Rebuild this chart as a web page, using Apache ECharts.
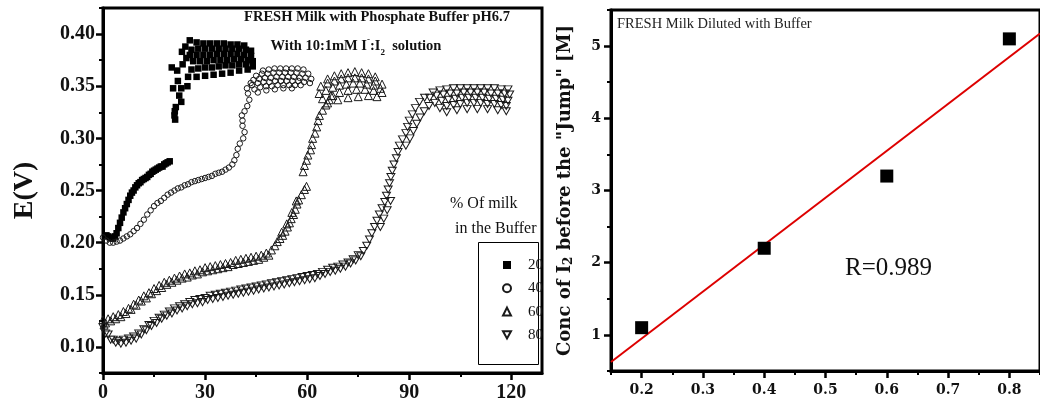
<!DOCTYPE html>
<html><head><meta charset="utf-8">
<script src="https://cdn.jsdelivr.net/npm/echarts@6/dist/echarts.min.js"></script>
<style>html,body{margin:0;padding:0;background:#fff}#c{width:1040px;height:407px}</style>
</head><body><div id="c"></div>
<script>
// ---------- Left panel: E(V) vs time, 4 milk percentages ----------
const legendNames = ['20', '40', '60', '80'];
const milk20 = [
 [1,0.207],[1.5,0.206],[2,0.205],[2.5,0.204],[3,0.204],[3.5,0.206],[4,0.209],[4.5,0.214],[5,0.219],[5.5,0.224],
 [6,0.229],[6.5,0.233],[7,0.237],[7.5,0.241],[8,0.245],[8.5,0.248],[9,0.250],[9.5,0.253],[10,0.255],[10.5,0.257],
 [11,0.258],[11.5,0.260],[12,0.261],[12.5,0.262],[13,0.263],[13.5,0.265],[14,0.266],[14.5,0.268],[15,0.269],[15.5,0.270],
 [16,0.271],[16.5,0.272],[17,0.273],[17.5,0.273],[18,0.275],[18.5,0.276],[19,0.277],[19.6,0.278],
 [21.2,0.318],[21.0,0.322],[21.1,0.326],[21.4,0.330],[23.0,0.335],[22.4,0.341],[20.6,0.348],[23.0,0.348],[24.8,0.350],
 [22.0,0.355],[20.2,0.368],[21.8,0.365],[23.4,0.371],[24.5,0.377],[23.2,0.383],[24.2,0.388],[25.5,0.394],
 [27.5,0.392],[29.5,0.391],[31.5,0.391],[33.5,0.391],[35.5,0.391],[37.5,0.390],[39.5,0.390],[41.5,0.389],
 [26,0.385],[28,0.386],[30,0.386],[32,0.386],[34,0.386],[36,0.386],[38,0.386],[40,0.386],[42,0.385],[43.5,0.384],
 [25.5,0.380],[27.5,0.380],[29.5,0.380],[31.5,0.380],[33.5,0.381],[35.5,0.381],[37.5,0.381],[39.5,0.381],[41.5,0.380],[43.5,0.379],
 [26.5,0.374],[28.5,0.374],[30.5,0.374],[32.5,0.375],[34.5,0.375],[36.5,0.375],[38.5,0.376],[40.5,0.376],[42.5,0.375],[44,0.374],
 [26,0.366],[28,0.367],[30,0.368],[32,0.368],[34,0.369],[36,0.370],[38,0.370],[40,0.371],[42,0.371],[44,0.369],
 [25,0.359],[27.5,0.359],[30,0.360],[32.5,0.361],[35,0.362],[37.5,0.363],[40,0.365],[42.5,0.366]
];
const milk40 = [
 [0,0.205],[1,0.202],[2,0.200],[3,0.200],[4,0.201],[5,0.202],[6,0.204],[7,0.206],[8,0.208],[9,0.211],
 [10,0.214],[11,0.218],[12,0.222],[13,0.227],[14,0.231],[15,0.235],[16,0.238],[17,0.240],[18,0.243],[19,0.246],
 [20,0.248],[21,0.250],[22,0.252],[23,0.253],[24,0.255],[25,0.256],[26,0.258],[27,0.259],[28,0.260],[29,0.261],
 [30,0.262],[31,0.263],[32,0.264],[33,0.266],[34,0.267],[35,0.268],[36,0.270],[37,0.272],[38,0.275],
 [38.6,0.279],[39.2,0.284],[39.6,0.290],[40.2,0.295],[41.2,0.300],[41.6,0.306],[41.0,0.312],[41.0,0.317],[40.8,0.322],
 [41.6,0.326],[42.4,0.331],[43.0,0.337],[42.6,0.343],[42.3,0.348],[43.4,0.353],
 [47,0.365],[48.7,0.366],[50.4,0.367],[52.1,0.367],[53.8,0.367],[55.5,0.367],[57.2,0.367],[58.9,0.366],
 [45,0.360],[46.7,0.362],[48.4,0.362],[50.1,0.363],[51.8,0.363],[53.5,0.363],[55.2,0.363],[56.9,0.363],[58.6,0.362],[60.3,0.362],
 [44.2,0.356],[45.9,0.357],[47.6,0.358],[49.3,0.358],[51,0.359],[52.7,0.359],[54.4,0.359],[56.1,0.359],[57.8,0.358],[59.5,0.358],[61.2,0.357],
 [43.8,0.351],[45.5,0.353],[47.2,0.354],[48.9,0.354],[50.6,0.355],[52.3,0.355],[54,0.355],[55.7,0.355],[57.4,0.355],[59.1,0.354],[60.8,0.353],
 [44.5,0.347],[46.2,0.349],[47.9,0.350],[49.6,0.350],[51.3,0.351],[53,0.351],[54.7,0.351],[56.4,0.351],[58.1,0.351],
 [45.5,0.344],[48,0.346],[50.5,0.347],[53,0.348],[55.5,0.348]
];
const milk60 = [
 [0.3,0.121],[0,0.126],[1.5,0.127],[3,0.129],[4.5,0.131],[6,0.134],[7.5,0.137],[9,0.141],[10.5,0.145],[12,0.149],[13.5,0.152],
 [15,0.156],[16.5,0.159],[18,0.162],[19.5,0.164],[21,0.166],[22.5,0.168],[24,0.170],[25.5,0.171],[27,0.173],[28.5,0.174],
 [30,0.176],[31.5,0.177],[33,0.178],[34.5,0.179],[36,0.180],[37.5,0.181],[39,0.183],[40.5,0.184],[42,0.185],[43.5,0.186],
 [45,0.187],[46.5,0.188],[48,0.190],[49.5,0.193],
 [0.75,0.123],[2.25,0.125],[3.75,0.127],[5.25,0.129],[6.75,0.132],[8.25,0.136],[9.75,0.140],[11.25,0.144],[12.75,0.147],[14.25,0.151],
 [15.75,0.154],[17.25,0.157],[18.75,0.160],[20.25,0.162],[21.75,0.164],[23.25,0.166],[24.75,0.167],[26.25,0.169],[27.75,0.170],[29.25,0.172],
 [30.75,0.173],[32.25,0.174],[33.75,0.175],[35.25,0.176],[36.75,0.177],[38.25,0.179],[39.75,0.180],[41.25,0.181],[42.75,0.182],[44.25,0.183],
 [45.75,0.184],[47.25,0.186],[48.75,0.188],
 [50.5,0.197],[51.2,0.201],[52,0.204],[52.8,0.207],[53.5,0.211],[54.2,0.215],[54.8,0.219],[55.3,0.223],[56,0.227],[56.5,0.232],
 [57,0.237],[57.5,0.241],[58.3,0.246],[59.2,0.251],[59.8,0.254],[58.8,0.268],[59.2,0.274],[59.8,0.279],[60.2,0.284],[61.0,0.289],
 [61.3,0.294],[61.6,0.300],[62.3,0.305],[62.8,0.311],[63.2,0.317],[63.6,0.322],[64.5,0.327],[65.5,0.332],[66.5,0.337],[67.5,0.341],
 [52.5,0.210],[54,0.218],[55.5,0.229],[56.8,0.240],
 [66,0.357],[68,0.360],[70,0.362],[72,0.363],[74,0.364],[76,0.363],[78,0.362],[80,0.359],
 [64,0.350],[66,0.353],[68,0.355],[70,0.357],[72,0.358],[74,0.358],[76,0.358],[78,0.357],[80,0.355],[82,0.352],
 [63.5,0.343],[65.5,0.346],[67.5,0.349],[69.5,0.351],[71.5,0.352],[73.5,0.353],[75.5,0.353],[77.5,0.352],[79.5,0.351],[81.5,0.348],
 [64.5,0.338],[67,0.341],[69.5,0.344],[72,0.346],[74.5,0.347],[77,0.347],[79.5,0.346],[82,0.344],
 [66,0.334],[69,0.337],[72,0.339],[75,0.340],[78,0.341],[80.5,0.340]
];
const milk80 = [
 [0,0.119],[1.5,0.112],[3,0.107],[4.5,0.106],[6,0.107],[7.5,0.108],[9,0.110],[10.5,0.113],[12,0.117],[13.5,0.121],
 [15,0.125],[16.5,0.128],[18,0.131],[19.5,0.134],[21,0.137],[22.5,0.139],[24,0.141],[25.5,0.143],[27,0.145],[28.5,0.146],
 [30,0.147],[31.5,0.149],[33,0.150],[34.5,0.151],[36,0.152],[37.5,0.153],[39,0.154],[40.5,0.155],[42,0.156],[43.5,0.157],
 [45,0.158],[46.5,0.159],[48,0.160],[49.5,0.161],[51,0.162],[52.5,0.163],[54,0.164],[55.5,0.165],[57,0.166],[58.5,0.167],
 [60,0.168],[61.5,0.169],[63,0.170],[64.5,0.172],[66,0.174],[67.5,0.176],[69,0.177],[70.5,0.179],[72,0.181],[73.5,0.184],
 [75,0.188],[76.5,0.192],
 [0.75,0.113],[2.25,0.107],[3.75,0.104],[5.25,0.103],[6.75,0.104],[8.25,0.106],[9.75,0.108],[11.25,0.112],[12.75,0.116],[14.25,0.120],
 [15.75,0.123],[17.25,0.127],[18.75,0.130],[20.25,0.132],[21.75,0.135],[23.25,0.137],[24.75,0.139],[26.25,0.141],[27.75,0.142],[29.25,0.143],
 [30.75,0.145],[32.25,0.146],[33.75,0.147],[35.25,0.148],[36.75,0.149],[38.25,0.150],[39.75,0.151],[41.25,0.152],[42.75,0.153],[44.25,0.154],
 [45.75,0.155],[47.25,0.156],[48.75,0.157],[50.25,0.158],[51.75,0.159],[53.25,0.160],[54.75,0.161],[56.25,0.162],[57.75,0.163],[59.25,0.164],
 [60.75,0.165],[62.25,0.166],[63.75,0.168],[65.25,0.170],[66.75,0.172],[68.25,0.173],[69.75,0.175],[71.25,0.177],[72.75,0.180],[74.25,0.183],
 [75.75,0.187],
 [77.5,0.197],[78.3,0.203],[79,0.209],[79.8,0.215],[80.5,0.221],[81.2,0.227],[82,0.233],[82.8,0.239],[83.3,0.245],[83.8,0.251],
 [84.2,0.257],[84.6,0.263],[85,0.269],[85.5,0.275],[86.2,0.281],[86.7,0.287],[87.1,0.293],[88,0.299],[89,0.305],[89.5,0.311],
 [90,0.317],[90.9,0.323],[91.8,0.329],[93,0.335],[94.5,0.339],
 [81.5,0.215],[82.5,0.223],[83.5,0.231],[84.5,0.240],[89,0.293],[90.2,0.300],[91.2,0.307],[92.2,0.314],[93.2,0.320],[94.4,0.326],[95.8,0.331],
 [97,0.344],[99,0.346],[101,0.347],[103,0.348],[105,0.348],[107,0.348],[109,0.348],[111,0.348],[113,0.348],[115,0.348],[117,0.347],[119,0.347],
 [96,0.339],[98,0.341],[100,0.342],[102,0.343],[104,0.343],[106,0.344],[108,0.344],[110,0.344],[112,0.344],[114,0.343],[116,0.343],[118,0.343],[119.5,0.342],
 [97.5,0.334],[99.5,0.336],[101.5,0.337],[103.5,0.338],[105.5,0.339],[107.5,0.339],[109.5,0.339],[111.5,0.339],[113.5,0.338],[115.5,0.338],[117.5,0.337],[119,0.336],
 [99,0.329],[101,0.331],[103,0.332],[105,0.333],[107,0.334],[109,0.334],[111,0.334],[113,0.333],[115,0.333],[117,0.332],[118.5,0.331],
 [101,0.325],[104,0.327],[107,0.328],[110,0.328],[113,0.328],[116,0.327],[118.5,0.326]
];
const leftXTicks = [0, 30, 60, 90, 120];
const leftXMinor = [15, 45, 75, 105];
const leftYTicks = [0.10, 0.15, 0.20, 0.25, 0.30, 0.35, 0.40];
const leftYMinor = [0.075, 0.125, 0.175, 0.225, 0.275, 0.325, 0.375, 0.425];

// ---------- Right panel: conc of I2 vs dilution ----------
const dilution = [0.2, 0.4, 0.6, 0.8];
const concI2 = [1.1, 2.2, 3.2, 5.1];
const fitX = [0.15, 0.85];
const fitY = [0.625, 5.175];
const rightXTicks = [0.2, 0.3, 0.4, 0.5, 0.6, 0.7, 0.8];
const rightXMinor = [0.15, 0.25, 0.35, 0.45, 0.55, 0.65, 0.75, 0.85];
const rightYTicks = [1, 2, 3, 4, 5];
const rightYMinor = [0.5, 1.5, 2.5, 3.5, 4.5, 5.5];

const serif = 'Liberation Serif';
const wide = 'DejaVu Serif';
const ink = '#111';
const downTriangle = 'path://M0,0L10,0L5,9Z';

function majorAxis(grid, pos, min, max, ticks, fmt, font, size, margin, extra) {
  return Object.assign({
    type: 'value', gridIndex: grid, position: pos, min: min, max: max,
    axisLine: { show: true, lineStyle: { color: '#000', width: 3 } },
    axisTick: { show: true, inside: false, length: 7, lineStyle: { color: '#000', width: 2.5 }, customValues: ticks },
    axisLabel: { show: true, customValues: ticks, formatter: fmt, fontFamily: font, fontWeight: 'bold', fontSize: size, color: ink, margin: margin },
    splitLine: { show: false }
  }, extra || {});
}
function minorAxis(grid, pos, min, max, ticks) {
  return {
    type: 'value', gridIndex: grid, position: pos, offset: 0, min: min, max: max,
    axisLine: { show: false },
    axisTick: { show: true, inside: false, length: 4, lineStyle: { color: '#000', width: 2 }, customValues: ticks },
    axisLabel: { show: false },
    splitLine: { show: false }
  };
}

const hollow = { color: 'rgba(255,255,255,0)', borderColor: '#1a1a1a', borderWidth: 1, opacity: 1 };

const option = {
  animation: false,
  backgroundColor: '#fff',
  grid: [
    { left: 103, top: 8, width: 439, height: 365, show: true, borderColor: '#000', borderWidth: 3, backgroundColor: 'transparent' },
    { left: 611, top: 10, width: 430, height: 361, show: true, borderColor: '#000', borderWidth: 3, backgroundColor: 'transparent' }
  ],
  xAxis: [
    majorAxis(0, 'bottom', 0, 129, leftXTicks, v => String(v), serif, 20, 10),
    minorAxis(0, 'bottom', 0, 129, leftXMinor),
    majorAxis(1, 'bottom', 0.15, 0.85, rightXTicks, v => v.toFixed(1), wide, 14, 12),
    minorAxis(1, 'bottom', 0.15, 0.85, rightXMinor)
  ],
  yAxis: [
    majorAxis(0, 'left', 0.075, 0.425, leftYTicks, v => v.toFixed(2), serif, 20, 8, {
      name: 'E(V)', nameLocation: 'middle', nameGap: 64,
      nameTextStyle: { fontFamily: serif, fontWeight: 'bold', fontSize: 28, color: ink }
    }),
    minorAxis(0, 'left', 0.075, 0.425, leftYMinor),
    majorAxis(1, 'left', 0.5, 5.5, rightYTicks, v => String(v), wide, 14, 10, {
      name: 'Conc of I{sub|2} before the "Jump" [M]', nameLocation: 'middle', nameGap: 36,
      nameTextStyle: { fontFamily: wide, fontWeight: 'bold', fontSize: 18, color: ink,
        rich: { sub: { fontFamily: wide, fontWeight: 'bold', fontSize: 12, color: ink, verticalAlign: 'bottom', padding: [8, 0, 0, 0] } } }
    }),
    minorAxis(1, 'left', 0.5, 5.5, rightYMinor)
  ],
  legend: {
    data: legendNames, orient: 'vertical', left: 497, top: 252,
    itemWidth: 8, itemHeight: 8, itemGap: 7.3, selectedMode: false,
    textStyle: { fontFamily: serif, fontSize: 15, color: ink, lineHeight: 16, padding: [0, 0, 0, 12] }
  },
  series: [
    { name: '20', type: 'scatter', xAxisIndex: 0, yAxisIndex: 0, silent: true, symbol: 'rect', symbolSize: 6.5,
      itemStyle: { color: '#000', opacity: 1 }, data: milk20 },
    { name: '40', type: 'scatter', xAxisIndex: 0, yAxisIndex: 0, silent: true, symbol: 'circle', symbolSize: 5.5,
      itemStyle: hollow, data: milk40 },
    { name: '60', type: 'scatter', xAxisIndex: 0, yAxisIndex: 0, silent: true, symbol: 'triangle', symbolSize: 8,
      itemStyle: hollow, data: milk60 },
    { name: '80', type: 'scatter', xAxisIndex: 0, yAxisIndex: 0, silent: true, symbol: downTriangle, symbolSize: [8, 7],
      itemStyle: hollow, data: milk80 },
    { name: 'fit', type: 'line', xAxisIndex: 2, yAxisIndex: 2, silent: true, showSymbol: false, symbol: 'none',
      lineStyle: { color: '#dd0000', width: 2 }, data: fitX.map((x, i) => [x, fitY[i]]), z: 2 },
    { name: 'conc', type: 'scatter', xAxisIndex: 2, yAxisIndex: 2, silent: true, symbol: 'rect', symbolSize: 13,
      itemStyle: { color: '#000', opacity: 1 }, data: dilution.map((x, i) => [x, concI2[i]]), z: 3 }
  ],
  graphic: [
    { type: 'text', x: 377, y: 17, style: { text: 'FRESH Milk with Phosphate Buffer pH6.7', fill: ink,
      font: 'bold 14.5px "Liberation Serif"', textAlign: 'center', textVerticalAlign: 'middle', align: 'center', verticalAlign: 'middle' } },
    { type: 'text', x: 356, y: 46, style: { text: '{n|With 10:1mM I}{sup|-}{n|:I}{sub|2}{n|  solution}', fill: ink,
      textAlign: 'center', textVerticalAlign: 'middle', align: 'center', verticalAlign: 'middle',
      rich: {
        n: { fontFamily: serif, fontWeight: 'bold', fontSize: 14.5, fill: ink, lineHeight: 22 },
        sup: { fontFamily: serif, fontWeight: 'bold', fontSize: 9, fill: ink, verticalAlign: 'top', lineHeight: 22 },
        sub: { fontFamily: serif, fontWeight: 'bold', fontSize: 9, fill: ink, verticalAlign: 'bottom', lineHeight: 22 }
      } } },
    { type: 'text', x: 450, y: 204, style: { text: '% Of milk', fill: ink, font: '16px "Liberation Serif"',
      textAlign: 'left', textVerticalAlign: 'middle', align: 'left', verticalAlign: 'middle' } },
    { type: 'text', x: 455, y: 229, style: { text: 'in the Buffer', fill: ink, font: '16px "Liberation Serif"',
      textAlign: 'left', textVerticalAlign: 'middle', align: 'left', verticalAlign: 'middle' } },
    { type: 'rect', shape: { x: 478.5, y: 242.5, width: 60, height: 122 }, style: { fill: 'none', stroke: '#000', lineWidth: 1 } },
    { type: 'text', x: 617, y: 24, style: { text: 'FRESH Milk Diluted with Buffer', fill: '#222', font: '14.5px "Liberation Serif"',
      textAlign: 'left', textVerticalAlign: 'middle', align: 'left', verticalAlign: 'middle' } },
    { type: 'text', x: 845, y: 268, style: { text: 'R=0.989', fill: ink, font: '25px "Liberation Serif"',
      textAlign: 'left', textVerticalAlign: 'middle', align: 'left', verticalAlign: 'middle' } }
  ]
};
const chart = echarts.init(document.getElementById('c'), null, { renderer: 'canvas' });
chart.setOption(option);
</script></body></html>
